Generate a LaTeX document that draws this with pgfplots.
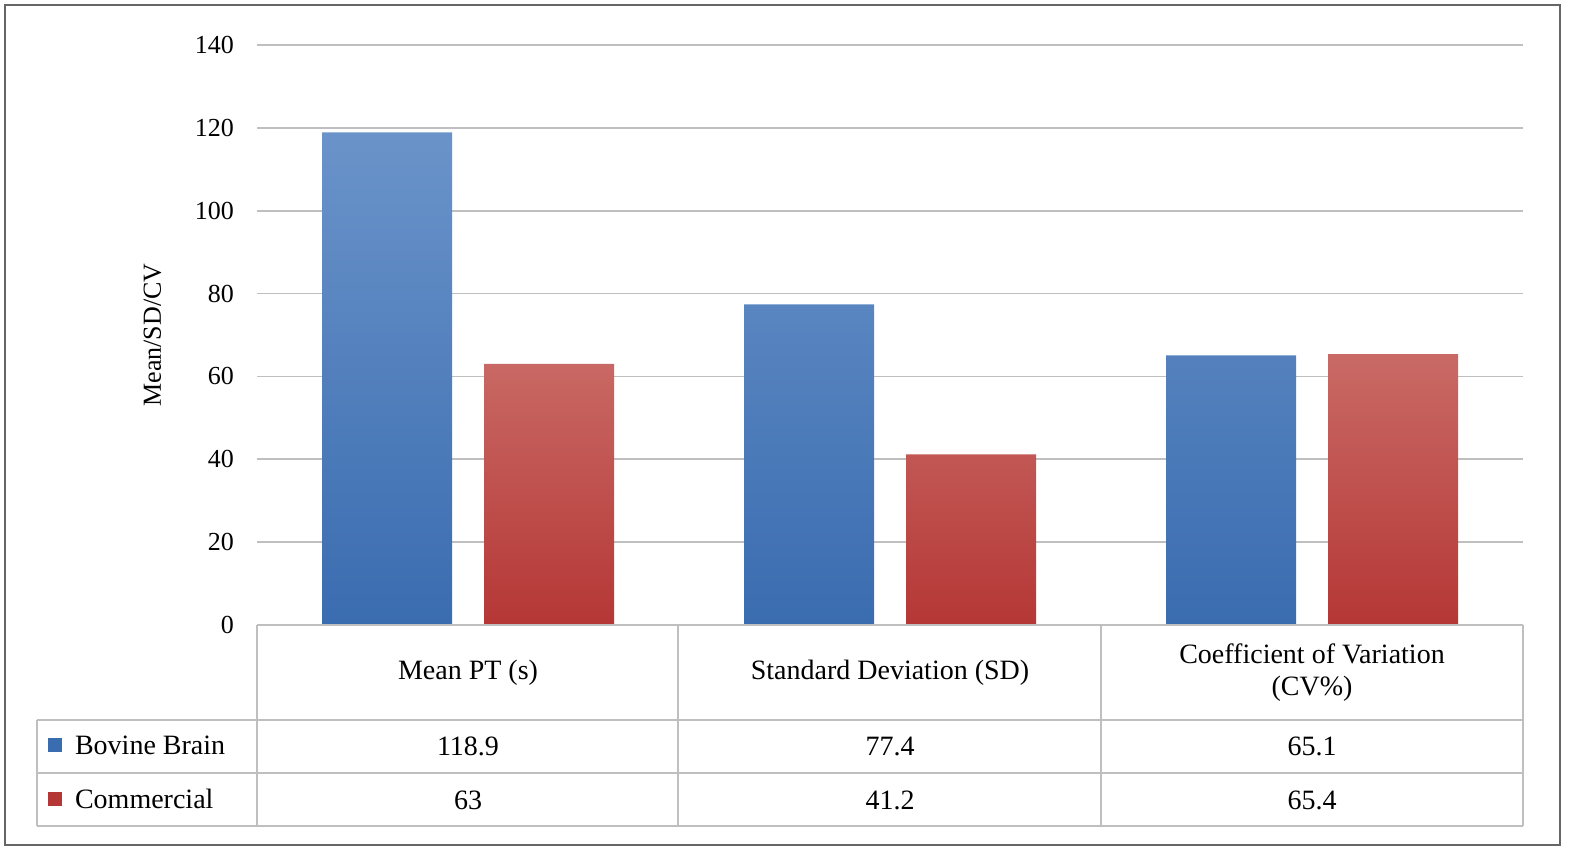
\documentclass[border=0pt]{standalone}
\usepackage{pgfplots}
\pgfplotsset{compat=1.18}
\usepackage{fontspec}
\setmainfont{Liberation Serif}
\definecolor{grid}{HTML}{D9D9D9}
\definecolor{tab}{HTML}{BFBFBF}
\definecolor{bt}{HTML}{6A93C9}\definecolor{bb}{HTML}{3A6CB0}
\definecolor{rt}{HTML}{C96A66}\definecolor{rb}{HTML}{B53735}
\begin{document}
\begin{tikzpicture}[x=0.5pt,y=-0.5pt]
\path (0,0) rectangle (1596,865);
\draw[color=gray!80!black,line width=0.8pt] (5,5) rectangle (1560,845);
\begin{axis}[at={(128.5pt,-312.5pt)},anchor=south west,scale only axis,
 width=633pt,height=290pt,xmin=-0.5,xmax=2.5,ymin=0,ymax=140,
 ytick={0,20,...,140},ymajorgrids,grid style={grid,line width=0.8pt},
 axis line style={draw=none},xtick=\empty,major tick length=0pt,
 yticklabel style={font=\fontsize{13}{15}\selectfont,xshift=-8pt},
 /pgf/number format/assume math mode=true,
 ylabel={Mean/SD/CV},ylabel style={font=\fontsize{13}{15}\selectfont,yshift=10pt},
 ybar,bar width=65pt,clip=false]
\addplot[draw=none,top color=bt,bottom color=bb,bar shift=-40.5pt] coordinates {(0,118.9)(1,77.4)(2,65.1)};
\addplot[draw=none,top color=rt,bottom color=rb,bar shift=40.5pt] coordinates {(0,63)(1,41.2)(2,65.4)};
\end{axis}
\begin{scope}[draw=tab,line width=0.8pt]
\draw (257,625)--(1523,625);
\draw (37,720)--(1523,720);
\draw (37,773)--(1523,773);
\draw (37,826)--(1523,826);
\draw (37,720)--(37,826);
\foreach \x in {257,678,1101,1523} \draw (\x,625)--(\x,826);
\end{scope}
\begin{scope}[font=\fontsize{14}{16}\selectfont]
\node at (468,673) {Mean PT (s)};
\node at (890,673) {Standard Deviation (SD)};
\node[align=center] at (1312,673) {Coefficient of Variation\\(CV\%)};
\node at (468,746) {118.9};\node at (890,746) {77.4};\node at (1312,746) {65.1};
\node at (468,800) {63};\node at (890,800) {41.2};\node at (1312,800) {65.4};
\fill[bb] (48,738) rectangle (62,752);
\fill[rb] (48,792) rectangle (62,806);
\node[anchor=west] at (68,745) {Bovine Brain};
\node[anchor=west] at (68,799) {Commercial};
\end{scope}
\end{tikzpicture}
\end{document}
